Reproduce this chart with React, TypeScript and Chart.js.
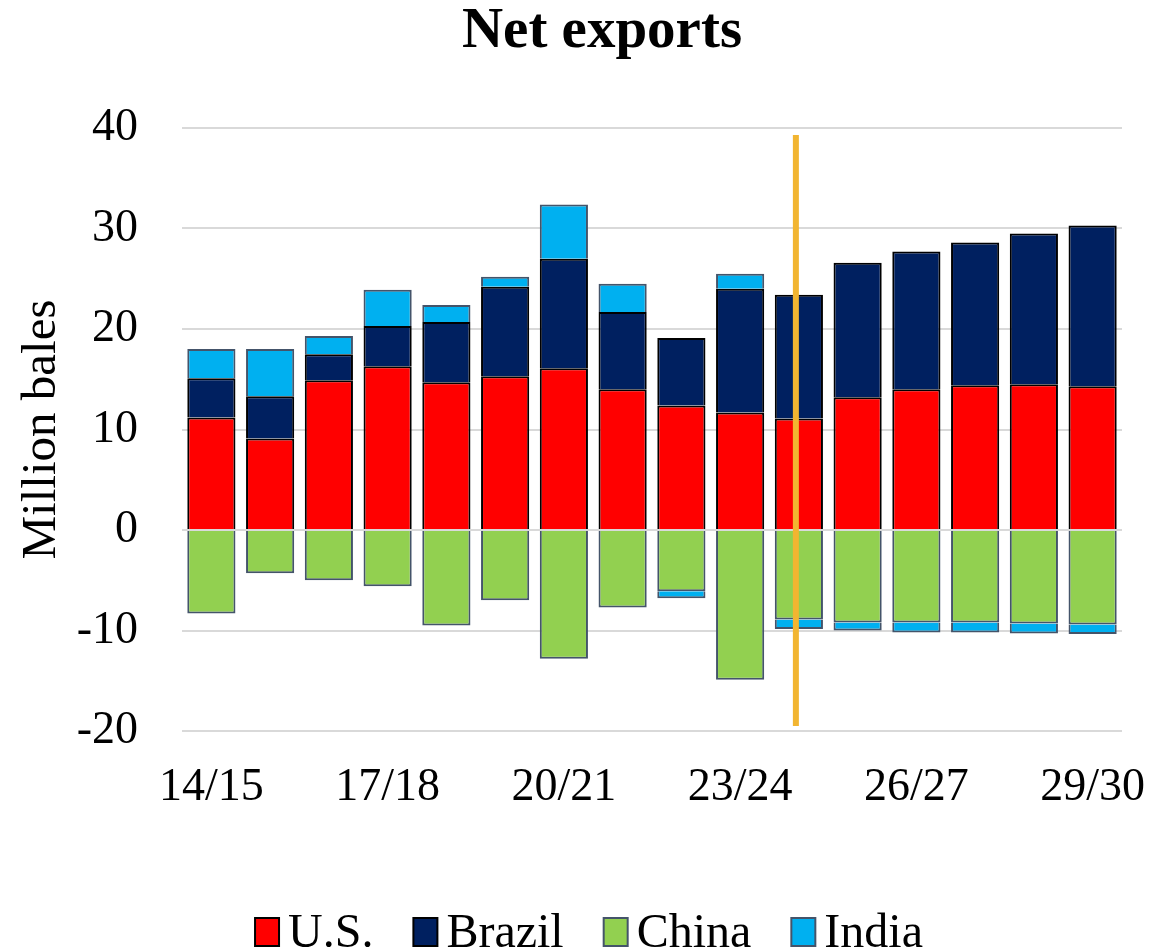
import React, { useEffect, useRef } from "react";
import { Chart, registerables } from "chart.js";

Chart.register(...registerables);

const categories = [
  "14/15", "15/16", "16/17", "17/18", "18/19", "19/20", "20/21", "21/22",
  "22/23", "23/24", "24/25", "25/26", "26/27", "27/28", "28/29", "29/30",
];
const usValues = [11.2, 9.1, 14.9, 16.3, 14.7, 15.3, 16.1, 14.0, 12.4, 11.7, 11.1, 13.2, 14.0, 14.4, 14.5, 14.3];
const brazilValues = [3.9, 4.2, 2.6, 4.0, 6.0, 8.9, 10.9, 7.7, 6.7, 12.3, 12.3, 13.4, 13.7, 14.2, 15.0, 16.0];
const chinaValues = [-8.3, -4.3, -5.0, -5.6, -9.5, -7.0, -12.8, -7.7, -6.1, -14.9, -8.9, -9.2, -9.2, -9.2, -9.3, -9.4];
const indiaValues = [2.9, 4.7, 1.8, 3.6, 1.7, 1.0, 5.4, 2.8, -0.7, 1.5, -0.95, -0.8, -1.0, -1.0, -1.0, -0.95];
const shownTickLabels = ["14/15", "17/18", "20/21", "23/24", "26/27", "29/30"];
const markerCategory = "24/25";
const markerRange = [39.3, -19.5];
const chartTitle = "Net exports";

const FONT = "'Liberation Serif', 'Times New Roman', serif";

const markerPlugin = {
  id: "marker",
  afterDatasetsDraw(chart: any) {
    const x = chart.scales.x.getPixelForValue(categories.indexOf(markerCategory)) - 3;
    const y1 = chart.scales.y.getPixelForValue(markerRange[0]);
    const y2 = chart.scales.y.getPixelForValue(markerRange[1]);
    const ctx = chart.ctx;
    ctx.save();
    ctx.strokeStyle = "#F2B531";
    ctx.lineWidth = 6;
    ctx.beginPath();
    ctx.moveTo(x, y1);
    ctx.lineTo(x, y2);
    ctx.stroke();
    ctx.restore();
  },
};

const titlePlugin = {
  id: "customTitle",
  afterDraw(chart: any) {
    const ctx = chart.ctx;
    ctx.save();
    ctx.font = `bold 57px ${FONT}`;
    ctx.fillStyle = "#000";
    ctx.textAlign = "center";
    ctx.textBaseline = "alphabetic";
    ctx.fillText(chartTitle, 602, 47);
    ctx.restore();
  },
};

const legendPlugin = {
  id: "customLegend",
  afterDraw(chart: any) {
    const ctx = chart.ctx;
    const fontSize = 48;
    const boxW = 24;
    const boxH = 28;
    const gapBoxText = 9;
    const gapItems = 40;
    const baseline = 947;
    const centerX = 589;
    ctx.save();
    ctx.font = `${fontSize}px ${FONT}`;
    const items = chart.data.datasets.map((ds: any) => ({
      label: ds.label,
      fill: ds.backgroundColor,
      stroke: ds.borderColor,
      w: ctx.measureText(ds.label).width,
    }));
    const total = items.reduce((s: number, it: any) => s + boxW + gapBoxText + it.w, 0) + gapItems * (items.length - 1);
    let x = centerX - total / 2;
    for (const it of items) {
      ctx.fillStyle = it.fill;
      ctx.fillRect(x, baseline - boxH - 1, boxW, boxH);
      ctx.strokeStyle = it.stroke;
      ctx.lineWidth = 2;
      ctx.strokeRect(x, baseline - boxH - 1, boxW, boxH);
      ctx.fillStyle = "#000";
      ctx.textAlign = "left";
      ctx.textBaseline = "alphabetic";
      ctx.fillText(it.label, x + boxW + gapBoxText, baseline);
      x += boxW + gapBoxText + it.w + gapItems;
    }
    ctx.restore();
  },
};

export default function App() {
  const ref = useRef<HTMLCanvasElement | null>(null);
  useEffect(() => {
    if (!ref.current) return;
    const chart = new Chart(ref.current, {
      type: "bar",
      data: {
        labels: categories,
        datasets: [
          { label: "U.S.", data: usValues, backgroundColor: "#FF0000", borderColor: "#000000", borderWidth: 2 },
          { label: "Brazil", data: brazilValues, backgroundColor: "#002060", borderColor: "#000000", borderWidth: 2 },
          { label: "China", data: chinaValues, backgroundColor: "#92D050", borderColor: "#44546A", borderWidth: 2 },
          { label: "India", data: indiaValues, backgroundColor: "#00B0F0", borderColor: "#44546A", borderWidth: 2 },
        ],
      },
      options: {
        responsive: false,
        animation: false,
        maintainAspectRatio: false,
        layout: { padding: { left: 0, right: 53, top: 128, bottom: 0 } },
        datasets: { bar: { barPercentage: 0.82, categoryPercentage: 1 } },
        scales: {
          x: {
            stacked: true,
            grid: { display: false, drawTicks: false },
            border: { display: false },
            ticks: {
              autoSkip: false,
              maxRotation: 0,
              color: "#000",
              padding: 29,
              font: { family: FONT, size: 46 },
              callback: (v: any, i: number) => (shownTickLabels.includes(categories[i]) ? categories[i] : ""),
            },
            afterFit: (s: any) => {
              s.height = 219;
              s.paddingLeft = 0;
              s.paddingRight = 0;
            },
          },
          y: {
            stacked: true,
            min: -20,
            max: 40,
            ticks: { stepSize: 10, color: "#000", padding: 44, font: { family: FONT, size: 46 } },
            grid: { color: "#D9D9D9", lineWidth: 2, drawTicks: false },
            border: { display: false },
            title: {
              display: true,
              text: "Million bales",
              color: "#000",
              font: { family: FONT, size: 49 },
              padding: { top: 13, bottom: 0 },
            },
            afterFit: (s: any) => { s.width = 182; },
          },
        },
        plugins: {
          title: { display: false },
          legend: { display: false },
          tooltip: { enabled: false },
        },
      },
      plugins: [markerPlugin, titlePlugin, legendPlugin],
    });
    return () => chart.destroy();
  }, []);
  return (
    <div style={{ position: "absolute", left: 0, top: 0, width: 1175, height: 950, overflow: "hidden", background: "#fff" }}>
      <canvas ref={ref} width={1175} height={950} style={{ display: "block" }} />
    </div>
  );
}
